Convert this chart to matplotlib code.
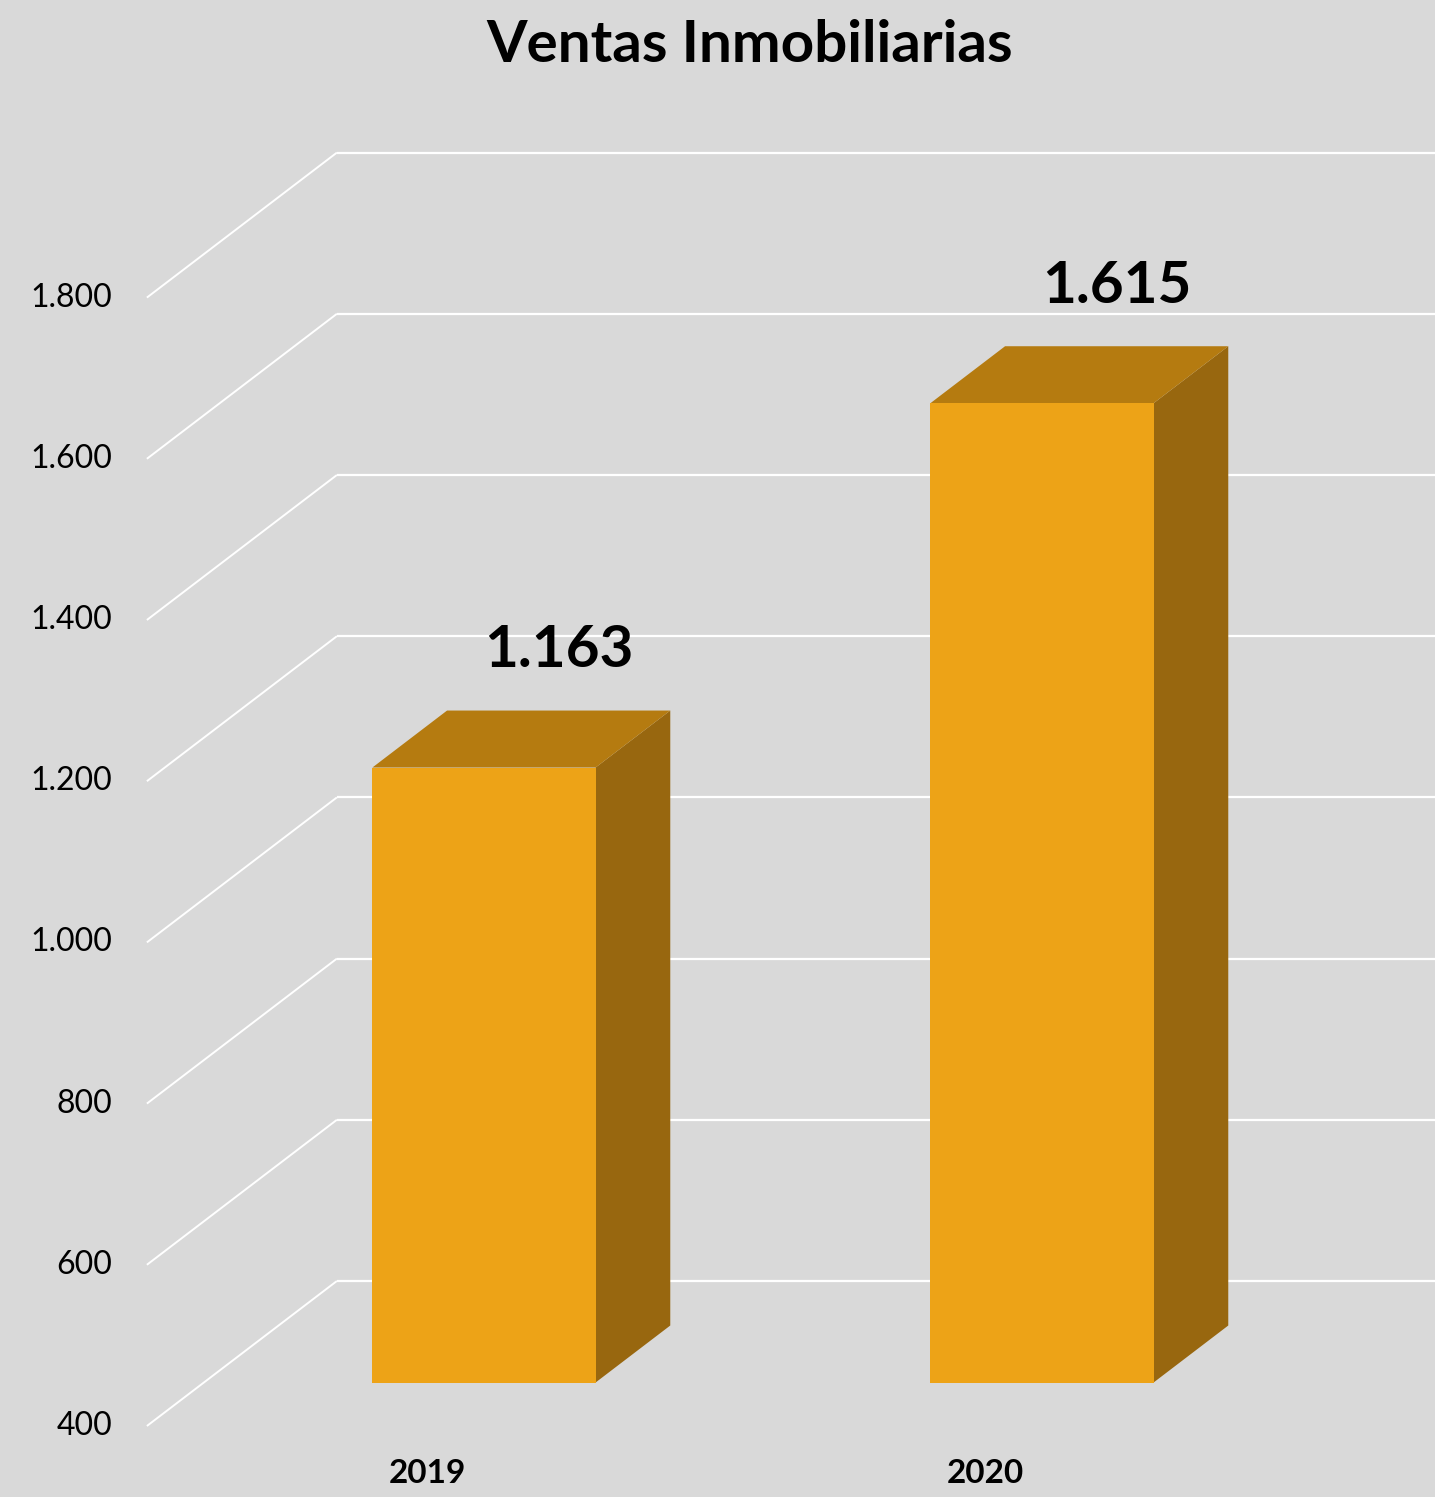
import matplotlib.pyplot as plt
from matplotlib.patches import Polygon

# data
years = ["2019", "2020"]
ventas = [1163, 1615]
ticks = [400, 600, 800, 1000, 1200, 1400, 1600, 1800]

def fmt(v):
    # miles con punto
    return "{:,}".format(v).replace(",", ".")

plt.rcParams['font.family'] = ['Lato', 'DejaVu Sans']

BG = "#D9D9D9"
FRONT = "#EDA317"
TOP = "#B57B10"
SIDE = "#98670F"

# oblique "3d" projection: depth d in [0,1] shifts x by DX and y by DY
DX = 190 / 558.0
DY = 145 / 0.806
BASE = ticks[0]
WALL_X = -0.502
BAR_W = 0.4
D0, D1 = 0.3, 0.693

fig = plt.figure(figsize=(14.35, 14.97), dpi=100, facecolor=BG)
ax = fig.add_axes([0, 0, 1, 1])
ax.set_facecolor(BG)
ax.set_xlim(-427 / 558.0, 1008 / 558.0)
ax.set_ylim(BASE - 71 / 0.806, BASE + 1426 / 0.806)
ax.axis('off')

def p(x, v, d):
    return (x + DX * d, v + DY * d)

# wall gridlines
for t in ticks:
    x0, y0 = p(WALL_X, t, 0)
    x1, y1 = p(WALL_X, t, 1)
    ax.plot([x0, x1], [y0, y1], color="white", lw=1.4, solid_capstyle='butt', zorder=1)
    ax.plot([x1, 1.9], [y1, y1], color="white", lw=1.6, solid_capstyle='butt', zorder=1)
    ax.annotate(fmt(t), (WALL_X, t), xytext=(-25, 0), textcoords='offset points',
                ha='right', va='center', fontsize=23, color="black")

# bars
for i, (yr, v) in enumerate(zip(years, ventas)):
    xl, xr = i - BAR_W / 2, i + BAR_W / 2
    front = [p(xl, BASE, D0), p(xr, BASE, D0), p(xr, v, D0), p(xl, v, D0)]
    top = [p(xl, v, D0), p(xr, v, D0), p(xr, v, D1), p(xl, v, D1)]
    side = [p(xr, BASE, D0), p(xr, BASE, D1), p(xr, v, D1), p(xr, v, D0)]
    ax.add_patch(Polygon(side, closed=True, facecolor=SIDE, edgecolor='none', zorder=3))
    ax.add_patch(Polygon(top, closed=True, facecolor=TOP, edgecolor='none', zorder=3))
    ax.add_patch(Polygon(front, closed=True, facecolor=FRONT, edgecolor='none', zorder=3))

    ax.annotate(fmt(v), p(i, v, D1), xytext=(0, 43), textcoords='offset points',
                ha='center', va='center', fontsize=42, fontweight='bold', color="black")
    ax.annotate(yr, (i, BASE), xytext=(0, -34), textcoords='offset points',
                ha='center', va='center', fontsize=24, fontweight='bold', color="black")

fig.text(750 / 1435.0, 1 - 45 / 1497.0, "Ventas Inmobiliarias", ha='center', va='center',
         fontsize=42, fontweight='bold', color="black")

fig.savefig("out.png", dpi=100, facecolor=BG)
